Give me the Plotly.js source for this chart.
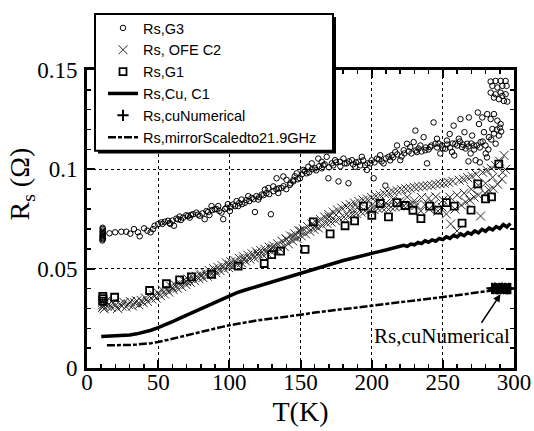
<!DOCTYPE html>
<html><head><meta charset="utf-8">
<script src="https://cdn.plot.ly/plotly-3.0.1.min.js"></script>
<style>html,body{margin:0;padding:0;background:#fff;} #chart{width:534px;height:431px;}</style>
</head><body><div id="chart"></div>
<script>
// ---- Rs,G3 (open circles) ----
var g3T = [10.8,11,11.2,11,10.9,11.1,11,11.2,10.9,11.1,11,11,
  15.8,19.8,24.1,27.6,30.4,33,35.8,37,40.1,42.4,
  44.7,46.4,47.5,49.9,52.2,54.6,56.9,58.5,61.1,62.8,
  65.1,67.5,69.8,72.2,74.5,76.9,79.2,82.7,85.1,87.5,
  89.8,92.2,94.5,95.7,98,100.4,102.7,105.1,106.2,108.6,
  110.9,113.3,115.6,118,120.3,122.7,125,127.4,129.2,130.9,
  133.2,134.4,136.7,137.9,140.2,142.6,144.9,
  53,58,60,64,66,71,73,78,81,84,
  86,88,91,93,97,99,101,104,107,109,
  112,114,117,119,121,124,126,128,131,133,
  135,138,140,143,
  145,147.3,149.6,152,154.3,155.5,157.9,160.2,162.5,164.9,
  166.1,168.4,169.6,172,174.3,176.7,177.8,180.2,182.5,183.7,
  186.1,188.4,190.8,193.1,195.4,196.6,199,201.4,203.7,206,
  208.4,209.6,211.9,214.2,216.6,217.8,220.1,222.5,224.8,227.1,
  229.5,230.7,231.8,234.2,236.5,237.7,238.9,241.2,243.5,244.7,
  245.9,248.2,249.4,251.8,252.9,254.8,256.5,257.6,258.8,261.2,
  262.4,263.5,265.2,267.1,268.3,269.5,270.6,271.8,273,274.6,
  275.4,276.5,277.7,278.9,280.1,281.2,282.4,283.6,284.8,285.9,
  287.1,288.3,289.4,290.6,
  283.6,287.1,290.6,294.1,284.8,288.3,291.8,294.8,283.6,287.1,
  290.6,294.1,285.9,289.4,292.9,295.3,291.8,
  146,148,151,153,156,158,161,163,165,167,
  170,173,175,178,181,184,187,189,192,194,
  197,200,202,205,207,210,213,215,218,221,
  223,226,228,231,233,235,238,240,242,246,
  247,250,253,255,257,260,262,264,266,268,
  270,272,274,276,278,280,282,284,286,288,
  290,291,268,276,281,258];
var g3R = [.0642,.0648,.0653,.0658,.0663,.0668,.0673,.0679,.0685,.0692,.0700,.0706,
  .0678,.0683,.0686,.0686,.0676,.0699,.0683,.0663,.0703,.0691,
  .0683,.0699,.0716,.0724,.0733,.0736,.0741,.0725,.0716,.0752,
  .0762,.0757,.0769,.0757,.0774,.0782,.0766,.0749,.0785,.0815,
  .0799,.0815,.0782,.0749,.0807,.0790,.0823,.0840,.0815,.0848,
  .0832,.0865,.0856,.0785,.0848,.0873,.0898,.0906,.0774,.0914,
  .0955,.0881,.0906,.0964,.0947,.0922,.0939,
  .0725,.0730,.0742,.0748,.0745,.0765,.0770,.0772,.0778,.0790,
  .0770,.0795,.0800,.0790,.0800,.0825,.0810,.0815,.0830,.0825,
  .0845,.0840,.0850,.0865,.0860,.0870,.0880,.0875,.0890,.0900,
  .0905,.0915,.0900,.0930,
  .0947,.0980,.0955,.0997,.0980,.1013,.1030,.1005,.1054,.1038,
  .1021,.1063,.0955,.1030,.1046,.0939,.1038,.1054,.1030,.0930,
  .1046,.1013,.1038,.1063,.1021,.0997,.1030,.0955,.1054,.1071,
  .1030,.0918,.1063,.1071,.1087,.1120,.1046,.1096,.1129,.1112,
  .1137,.1195,.1087,.1120,.1162,.1096,.1030,.1112,.1236,.1129,
  .1154,.1080,.1120,.1104,.1145,.1178,.1087,.1220,.1129,.1154,
  .1253,.1112,.1187,.1129,.1261,.1080,.1170,.1120,.1046,.1286,
  .1228,.1137,.1261,.1187,.1080,.1278,.1162,.1253,.1203,.1278,
  .1129,.1245,.1170,.1228,
  .1442,.1445,.1445,.1445,.1420,.1412,.1420,.1420,.1386,.1378,
  .1386,.1378,.1361,.1353,.1344,.1341,.1370,
  .0965,.0950,.0975,.0990,.0985,.1000,.0995,.1015,.1005,.1025,
  .1010,.1020,.1035,.1015,.1030,.1040,.1025,.1035,.1020,.1045,
  .1030,.1045,.1035,.1050,.1040,.1055,.1045,.1060,.1075,.1065,
  .1080,.1090,.1080,.1095,.1105,.1090,.1110,.1100,.1120,.1110,
  .1130,.1105,.1125,.1110,.1130,.1120,.1140,.1125,.1105,.1115,
  .1130,.1100,.1120,.1110,.1140,.1120,.1100,.1150,.1180,.1200,
  .1210,.1190,.1040,.1035,.1060,.1070];

// ---- Rs, OFE C2 (crosses) ----
var ofeT = [11,11,11,11,11.5,12,12.5,13,
  14,15.5,17,18.5,20,21.5,23,24.5,26,27.5,
  29,30.5,32,33.5,35,36.5,38,39.5,41,42.5,
  44,45.5,47,48.5,50,51.5,53,54.5,56,57.5,
  59,60.5,62,63.5,65,66.5,68,69.5,71,72.5,
  74,75.5,77,78.5,80,81.5,83,84.5,86,87.5,
  89,90.5,92,93.5,95,96.5,98,99.5,101,102.5,
  104,105.5,107,108.5,110,111.5,113,114.5,116,117.5,
  119,120.5,122,123.5,125,126.5,128,129.5,131,132.5,
  134,135.5,137,138.5,140,141.5,143,144.5,146,147.5,
  149,150.5,152,153.5,155,156.5,158,159.5,161,162.5,
  164,165.5,167,168.5,170,171.5,173,174.5,176,177.5,
  179,180.5,182,183.5,185,186.5,188,189.5,191,192.5,
  194,195.5,197,198.5,200,201.5,203,204.5,206,207.5,
  209,210.5,212,213.5,215,216.5,218,219.5,221,222.5,
  224,225.5,227,228.5,230,231.5,233,234.5,236,237.5,
  239,240.5,242,243.5,245,246.5,248,249.5,251,252.5,
  254,255.5,257,258.5,260,261.5,263,264.5,266,267.5,
  269,270.5,272,273.5,275,276.5,278,279.5,281,282.5,
  284,285.5,287,288.5,290,291.5,293,294,
  145,160,175,190,205,215,225,235,245,255,
  265,275,285,292,120,130,110,100,90,80,
  70,60,220,250,260,270,280,240,230,210,
  200,185,170,150,140];
var ofeR = [.0305,.0318,.0330,.0340,.0312,.0298,.0325,.0335,
  .0310,.0322,.0305,.0328,.0315,.0300,.0322,.0312,.0330,.0308,
  .0320,.0334,.0312,.0328,.0338,.0318,.0340,.0328,.0352,.0335,
  .0360,.0348,.0366,.0352,.0378,.0365,.0392,.0372,.0398,.0382,
  .0410,.0395,.0418,.0402,.0428,.0410,.0440,.0420,.0448,.0432,
  .0458,.0440,.0462,.0450,.0472,.0455,.0480,.0462,.0490,.0472,
  .0500,.0480,.0506,.0490,.0515,.0498,.0528,.0505,.0535,.0515,
  .0540,.0522,.0552,.0530,.0560,.0538,.0568,.0548,.0575,.0555,
  .0585,.0562,.0592,.0570,.0598,.0578,.0608,.0585,.0615,.0595,
  .0625,.0600,.0638,.0612,.0650,.0625,.0665,.0640,.0675,.0652,
  .0690,.0665,.0700,.0675,.0712,.0688,.0725,.0698,.0735,.0705,
  .0748,.0718,.0760,.0728,.0772,.0735,.0785,.0742,.0795,.0752,
  .0805,.0760,.0815,.0765,.0822,.0772,.0830,.0778,.0838,.0785,
  .0845,.0790,.0850,.0795,.0858,.0798,.0865,.0802,.0870,.0805,
  .0878,.0808,.0882,.0810,.0888,.0812,.0892,.0815,.0898,.0815,
  .0902,.0818,.0905,.0820,.0910,.0820,.0912,.0790,.0915,.0822,
  .0918,.0800,.0920,.0825,.0925,.0790,.0928,.0810,.0930,.0775,
  .0935,.0725,.0940,.0800,.0690,.0945,.0820,.0950,.0835,.0958,
  .0845,.0965,.0860,.0975,.0870,.0765,.0985,.0880,.0995,.0895,
  .1005,.0905,.1020,.0925,.1040,.0950,.1070,.1000,
  .0660,.0715,.0770,.0808,.0835,.0850,.0860,.0858,.0862,.0860,
  .0880,.0920,.0960,.0985,.0575,.0605,.0548,.0520,.0492,.0463,
  .0435,.0405,.0840,.0845,.0870,.0900,.0930,.0855,.0842,.0830,
  .0820,.0795,.0760,.0690,.0648];

// ---- Rs,G1 (open squares) ----
var g1T = [11.1,11.1,11.3,19.4,44,55.8,65.1,73.4,87.5,106.2,
  124.5,129.7,136,153.2,159,170.8,181.3,188,194.2,200.1,
  206,211.8,217.7,223.6,229,234.6,240.7,246.6,252.5,258,
  263.5,269.8,274.5,280,284.2,289.3];
var g1R = [.0361,.0337,.0349,.0356,.0390,.0424,.0444,.0459,.0472,.0513,
  .0526,.0571,.0588,.0597,.0736,.0675,.0716,.0741,.0815,.0769,
  .0828,.0761,.0832,.0818,.0794,.0752,.0815,.0795,.0832,.0815,
  .0729,.0795,.0927,.0851,.0861,.1026];

// ---- Rs,Cu, C1 (solid line) ----
var cuT = [10,15,20,25,30,35,40,45,50,55,
  60,65,70,75,80,85,90,95,100,105,
  110,115,120,125,130,135,140,145,150,155,
  160,165,170,175,180,185,190,195,200,205,
  210,215,220,222.5,225,227.5,230,232.5,235,237.5,
  240,242.5,245,247.5,250,252.5,255,257.5,260,262.5,
  265,267.5,270,272.5,275,277.5,280,282.5,285,287.5,
  290,292.5,295,297.5];
var cuR = [.0158,.0160,.0161,.0163,.0166,.0172,.0180,.0190,.0203,.0217,
  .0233,.0250,.0266,.0282,.0298,.0315,.0333,.0350,.0365,.0378,
  .0390,.0401,.0411,.0421,.0431,.0441,.0452,.0464,.0476,.0488,
  .0499,.0510,.0521,.0531,.0541,.0550,.0560,.0569,.0578,.0586,
  .0594,.0602,.0610,.0618,.0612,.0624,.0620,.0632,.0626,.0640,
  .0633,.0645,.0638,.0652,.0646,.0660,.0652,.0668,.0660,.0675,
  .0666,.0682,.0674,.0690,.0680,.0698,.0688,.0705,.0695,.0712,
  .0702,.0722,.0710,.0728];

// ---- Rs,cuNumerical (plus markers) ----
var numT = [284.5,285.5,286.5,287.5,288.5,289.5,290.5,291.5,292.5,293.5,294.5,295.5,296.5,297.5];
var numR = [.0401,.0399,.0402,.0400,.0398,.0401,.0400,.0402,.0399,.0401,.0400,.0398,.0401,.0400];

// ---- Rs,mirrorScaledto21.9GHz (dashed line) ----
var mirT = [14,20,25,30,35,40,45,50,55,60,
  65,70,75,80,85,90,95,100,105,110,
  115,120,130,140,150,160,170,180,190,200,
  210,220,230,240,250,260,270,280,286];
var mirR = [.0114,.0114,.0115,.0116,.0118,.0121,.0125,.0131,.0138,.0147,
  .0156,.0165,.0174,.0183,.0192,.0200,.0207,.0215,.0222,.0228,
  .0234,.0240,.0249,.0257,.0268,.0279,.0287,.0296,.0305,.0314,
  .0322,.0331,.0339,.0348,.0357,.0366,.0376,.0386,.0392];

var xTicks = [0,50,100,150,200,250,300];
var yTicks = [0,0.05,0.1,0.15];
var yTickText = ['0','0.05','0.1','0.15'];

var serif = 'Liberation Serif';
var sans = 'Liberation Sans';

var traces = [
  {x:g3T, y:g3R, name:'Rs,G3', type:'scatter', mode:'markers',
   marker:{symbol:'circle-open', size:5.5, color:'black', line:{width:1, color:'black'}}},
  {x:ofeT, y:ofeR, name:'Rs, OFE C2', type:'scatter', mode:'markers',
   marker:{symbol:'x-thin-open', size:9, color:'#2a2a2a', line:{width:1, color:'#2a2a2a'}}},
  {x:g1T, y:g1R, name:'Rs,G1', type:'scatter', mode:'markers',
   marker:{symbol:'square-open', size:7, color:'black', line:{width:1.8, color:'black'}}},
  {x:cuT, y:cuR, name:'Rs,Cu, C1', type:'scatter', mode:'lines',
   line:{color:'black', width:3.5}},
  {x:numT, y:numR, name:'Rs,cuNumerical', type:'scatter', mode:'markers',
   marker:{symbol:'cross-thin-open', size:8, color:'black', line:{width:2, color:'black'}}},
  {x:mirT, y:mirR, name:'Rs,mirrorScaledto21.9GHz', type:'scatter', mode:'lines',
   line:{color:'black', width:2.5, dash:'8px,2px,4px,2px'}}
];

function axisBase() {
  return {
    ticks:'inside', ticklen:8, tickwidth:2, tickcolor:'black',
    showline:true, linewidth:3, linecolor:'black', mirror:'ticks',
    showgrid:true, gridcolor:'black', griddash:'dot', gridwidth:1,
    zeroline:false,
    tickfont:{family:serif, size:23, color:'black'}
  };
}
var xa = axisBase();
xa.range = [0,300]; xa.tickmode = 'array'; xa.tickvals = xTicks; xa.ticktext = xTicks.map(String);
xa.minor = {dtick:10, ticks:'inside', ticklen:4, tickwidth:1.5, tickcolor:'black', showgrid:false};
xa.title = {text:'T(K)', font:{family:serif, size:28, color:'black'}, standoff:8};
xa.ticklabelstandoff = -9;
var ya = axisBase();
ya.range = [0,0.15]; ya.tickmode = 'array'; ya.tickvals = yTicks; ya.ticktext = yTickText;
ya.minor = {dtick:0.01, ticks:'inside', ticklen:4, tickwidth:1.5, tickcolor:'black', showgrid:false};
ya.ticklabelstandoff = 2;

var layout = {
  width:534, height:431,
  margin:{l:87, r:20, t:65, b:63},
  paper_bgcolor:'white', plot_bgcolor:'white',
  font:{family:serif, size:23, color:'black'},
  showlegend:true,
  legend:{x:0.0375, y:1.1947, xanchor:'left', yanchor:'top',
    bgcolor:'rgba(0,0,0,0)', borderwidth:0,
    font:{family:sans, size:14.5, color:'black'}, traceorder:'normal'},
  xaxis:xa, yaxis:ya,
  shapes:[
    {type:'rect', xref:'paper', yref:'paper', x0:0.02576, x1:0.58314, y0:0.71947, y1:1.17822,
     fillcolor:'black', line:{width:0}, layer:'above'},
    {type:'rect', xref:'paper', yref:'paper', x0:0.01874, x1:0.57611, y0:0.72937, y1:1.18812,
     fillcolor:'white', line:{width:2, color:'black'}, layer:'above'}
  ],
  annotations:[
    {xref:'paper', yref:'paper', x:-0.1538, y:0.617, text:'R<sub>s</sub> (Ω)', textangle:-90,
     showarrow:false, xanchor:'center', yanchor:'middle', font:{family:serif, size:28, color:'black'}},
    {x:249.4, y:0.0163, text:'Rs,cuNumerical', showarrow:false,
     font:{family:serif, size:21, color:'black'}},
    {x:290.5, y:0.0371, ax:-20, ay:30, text:'', showarrow:true, arrowhead:2, arrowsize:1,
     arrowwidth:1.5, arrowcolor:'black'}
  ]
};

Plotly.newPlot('chart', traces, layout, {staticPlot:true, displayModeBar:false});
</script></body></html>
